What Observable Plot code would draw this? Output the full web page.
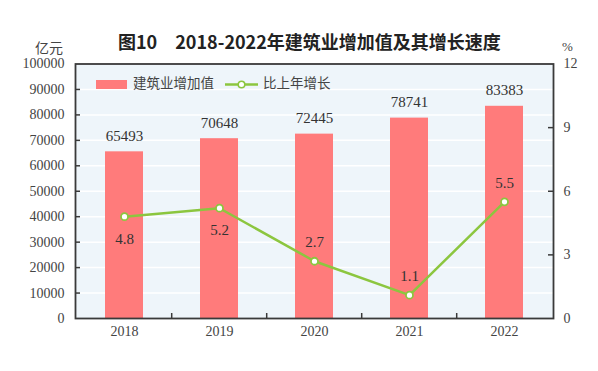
<!DOCTYPE html>
<html><head><meta charset="utf-8">
<script src="https://cdn.jsdelivr.net/npm/d3@7"></script>
<script src="https://cdn.jsdelivr.net/npm/@observablehq/plot@0.6"></script>
<style>
body{margin:0;background:#fff;}
#wrap{position:relative;width:598px;height:371px;overflow:hidden;}
#wrap svg.plot{position:absolute;left:0;top:0;}
.t{position:absolute;white-space:nowrap;color:#333;}
#title{left:118px;top:30px;font:bold 18px/22px "Noto Sans CJK SC",sans-serif;color:#222;}
#unitL{left:35px;top:38px;font:14px/18px "Noto Sans CJK SC",sans-serif;color:#444;}
#unitR{left:562px;top:39px;font:13px/16px "Liberation Serif",serif;color:#444;}
.leg{position:absolute;font:13.5px/18px "Noto Sans CJK SC",sans-serif;color:#444;white-space:nowrap;}
</style></head><body>
<div id="wrap">
  <div class="t" id="title">图10　2018-2022年建筑业增加值及其增长速度</div>
  <div class="t" id="unitL">亿元</div>
  <div class="t" id="unitR">%</div>
</div>
<script>
// ---- data ----
const years = ["2018", "2019", "2020", "2021", "2022"];
const valueAdded = [65493, 70648, 72445, 78741, 83383];   // 亿元
const growth = [4.8, 5.2, 2.7, 1.1, 5.5];                 // %
const growthLabelSide = ["below", "below", "above", "above", "above"];
const leftTicks = [0, 10000, 20000, 30000, 40000, 50000, 60000, 70000, 80000, 90000, 100000];
const rightTicks = [0, 3, 6, 9, 12];
const seriesNames = ["建筑业增加值", "比上年增长"];

// ---- layout ----
const W = 598, H = 371, mL = 75, mR = 45, mT = 63.5, mB = 53;
const pw = W - mL - mR, ph = H - mT - mB;
const barColor = "#ff7b7b", lineColor = "#8cc63f", bg = "#eef5fa", axisColor = "#3a3a3a";
const xOpts = {type: "band", domain: years, paddingInner: 0.6, paddingOuter: 0.3, label: null};
const step = pw / (years.length - 0.6 + 2 * 0.3);

const data = years.map((year, i) => ({year, value: valueAdded[i], growth: growth[i], side: growthLabelSide[i]}));

const common = {
  width: W, height: H, marginLeft: mL, marginRight: mR, marginTop: mT, marginBottom: mB,
  className: "plot",
  style: {fontFamily: "'Liberation Serif', serif", fontSize: "14px", color: "#333", background: "transparent", overflow: "visible"}
};

const p1 = Plot.plot({
  ...common,
  x: {...xOpts},
  y: {domain: [0, 100000], label: null},
  marks: [
    Plot.frame({fill: bg}),
    Plot.ruleY(leftTicks.slice(1, -1), {stroke: "#fff", strokeWidth: 1.5}),
    Plot.barY(data, {x: "year", y: "value", fill: barColor}),
    Plot.text(data, {x: "year", y: "value", text: d => String(d.value), dy: -16, fontSize: 15, fill: "#333"}),
    Plot.ruleY(leftTicks.slice(1, -1), {stroke: axisColor, strokeWidth: 1.5, insetRight: pw - 5}),
    Plot.ruleX(years.slice(1), {x: d => d, dx: -step / 2, stroke: axisColor, strokeWidth: 1.5, insetTop: ph - 5}),
    Plot.frame({stroke: axisColor, strokeWidth: 1.8}),
    Plot.axisY(leftTicks, {anchor: "left", label: null, tickSize: 0, tickPadding: 11, tickFormat: d => String(d), fill: "#444"}),
    Plot.axisX({label: null, tickSize: 0, tickPadding: 8, fill: "#444"})
  ]
});

const p2 = Plot.plot({
  ...common,
  x: {...xOpts, axis: null},
  y: {domain: [0, 12], label: null},
  marks: [
    Plot.ruleY(rightTicks.slice(1, -1), {stroke: axisColor, strokeWidth: 1.5, insetLeft: pw - 5}),
    Plot.line(data, {x: "year", y: "growth", stroke: lineColor, strokeWidth: 2.5}),
    Plot.dot(data, {x: "year", y: "growth", r: 3.5, fill: "#fff", stroke: lineColor, strokeWidth: 1.8}),
    Plot.text(data.filter(d => d.side === "below"), {x: "year", y: "growth", text: d => d.growth.toFixed(1), dy: 22, fontSize: 15, fill: "#333"}),
    Plot.text(data.filter(d => d.side === "above"), {x: "year", y: "growth", text: d => d.growth.toFixed(1), dy: -19, fontSize: 15, fill: "#333"}),
    Plot.axisY(rightTicks, {anchor: "right", label: null, tickSize: 0, tickPadding: 10, fill: "#444"})
  ]
});

const wrap = document.getElementById("wrap");
wrap.appendChild(p1);
wrap.appendChild(p2);

// legend
function legendItem(html, left) {
  const d = document.createElement("div");
  d.className = "leg";
  d.style.left = left + "px";
  d.style.top = "73px";
  d.innerHTML = html;
  wrap.appendChild(d);
}
legendItem(`<svg width="31" height="9" style="vertical-align:-1px;margin-right:6px"><rect width="31" height="9" fill="${barColor}"/></svg>${seriesNames[0]}`, 96);
legendItem(`<svg width="33" height="9" style="vertical-align:-1px;margin-right:5px"><line x1="0" x2="33" y1="4.5" y2="4.5" stroke="${lineColor}" stroke-width="2.5"/><circle cx="16.5" cy="4.5" r="3.3" fill="#fff" stroke="${lineColor}" stroke-width="1.6"/></svg>${seriesNames[1]}`, 225);
</script>
</body></html>
